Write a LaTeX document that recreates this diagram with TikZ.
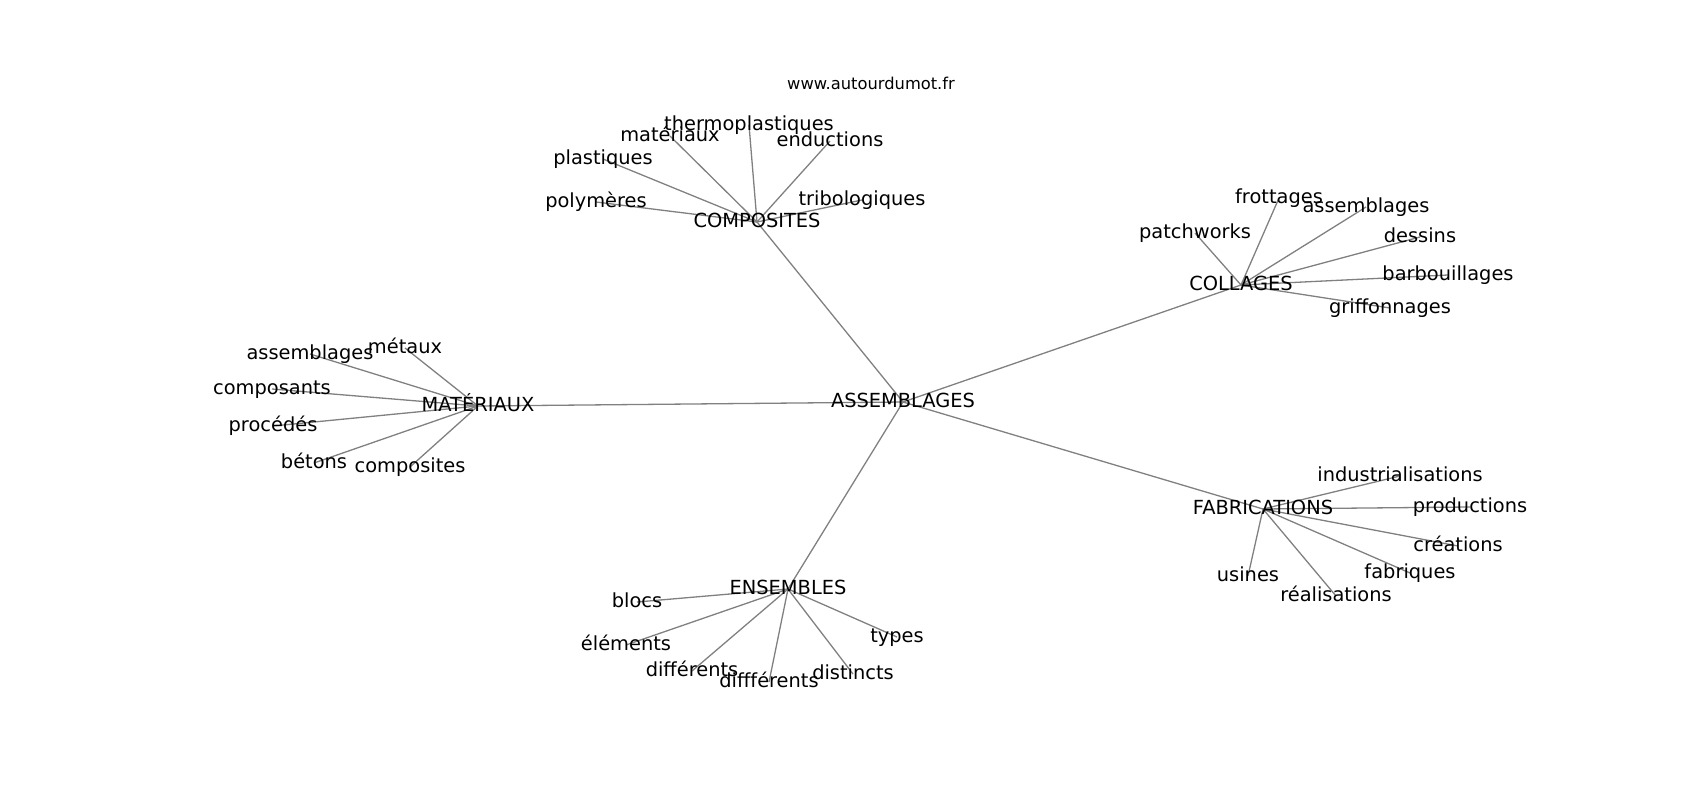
\documentclass[tikz,border=0pt]{standalone}
\usepackage{fontspec}
\setmainfont{DejaVu Sans}
\usetikzlibrary{backgrounds}
\begin{document}
\begin{tikzpicture}[x=1pt, y=-1pt,
        word/.style={inner sep=0pt, text height=14.7pt, text depth=4.4pt, font=\fontsize{19.4}{23}\selectfont},
        link/.style={draw=gray, line width=1.3pt}]
        \useasboundingbox (0,0) rectangle (1700,800);
        \node (url) [inner sep=0pt, text height=12.6pt, text depth=3.9pt, font=\fontsize{16.3}{20}\selectfont] at (871,85) {www.autourdumot.fr};

        \node (asm) [word] at (903,402) {ASSEMBLAGES};
        \node (cps) [word] at (757,222) {COMPOSITES};
        \node (col) [word] at (1241,285) {COLLAGES};
        \node (mat) [word] at (478,406) {MATÉRIAUX};
        \node (fab) [word] at (1263,509) {FABRICATIONS};
        \node (ens) [word] at (788,589) {ENSEMBLES};

        \node (thermo) [word] at (749,125) {thermoplastiques};
        \node (mater) [word] at (670,136) {matériaux};
        \node (enduc) [word] at (830,141) {enductions};
        \node (plast) [word] at (603,159) {plastiques};
        \node (polym) [word] at (596,202) {polymères};
        \node (tribo) [word] at (862,200) {tribologiques};

        \node (frott) [word] at (1279,198) {frottages};
        \node (assco) [word] at (1366,207) {assemblages};
        \node (patch) [word] at (1195,233) {patchworks};
        \node (dess) [word] at (1420,237) {dessins};
        \node (barb) [word] at (1448,275) {barbouillages};
        \node (griff) [word] at (1390,308) {griffonnages};

        \node (met) [word] at (405,348) {métaux};
        \node (assma) [word] at (310,354) {assemblages};
        \node (compo) [word] at (272,389) {composants};
        \node (proc) [word] at (273,426) {procédés};
        \node (bet) [word] at (314,463) {bétons};
        \node (compi) [word] at (410,467) {composites};

        \node (indus) [word] at (1400,476) {industrialisations};
        \node (prod) [word] at (1470,507) {productions};
        \node (crea) [word] at (1458,546) {créations};
        \node (fabr) [word] at (1410,573) {fabriques};
        \node (real) [word] at (1336,596) {réalisations};
        \node (usin) [word] at (1248,576) {usines};

        \node (bloc) [word] at (637,602) {blocs};
        \node (elem) [word] at (626,645) {éléments};
        \node (diff) [word] at (692,671) {différents};
        \node (difff) [word] at (769,682) {diffférents};
        \node (dist) [word] at (853,674) {distincts};
        \node (typ) [word] at (897,637) {types};

        \begin{scope}[on background layer]
        \draw[link] (asm.center) -- (cps.center);
        \draw[link] (asm.center) -- (col.center);
        \draw[link] (asm.center) -- (mat.center);
        \draw[link] (asm.center) -- (fab.center);
        \draw[link] (asm.center) -- (ens.center);

        \draw[link] (cps.center) -- (thermo.center);
        \draw[link] (cps.center) -- (mater.center);
        \draw[link] (cps.center) -- (enduc.center);
        \draw[link] (cps.center) -- (plast.center);
        \draw[link] (cps.center) -- (polym.center);
        \draw[link] (cps.center) -- (tribo.center);

        \draw[link] (col.center) -- (frott.center);
        \draw[link] (col.center) -- (assco.center);
        \draw[link] (col.center) -- (patch.center);
        \draw[link] (col.center) -- (dess.center);
        \draw[link] (col.center) -- (barb.center);
        \draw[link] (col.center) -- (griff.center);

        \draw[link] (mat.center) -- (met.center);
        \draw[link] (mat.center) -- (assma.center);
        \draw[link] (mat.center) -- (compo.center);
        \draw[link] (mat.center) -- (proc.center);
        \draw[link] (mat.center) -- (bet.center);
        \draw[link] (mat.center) -- (compi.center);

        \draw[link] (fab.center) -- (indus.center);
        \draw[link] (fab.center) -- (prod.center);
        \draw[link] (fab.center) -- (crea.center);
        \draw[link] (fab.center) -- (fabr.center);
        \draw[link] (fab.center) -- (real.center);
        \draw[link] (fab.center) -- (usin.center);

        \draw[link] (ens.center) -- (bloc.center);
        \draw[link] (ens.center) -- (elem.center);
        \draw[link] (ens.center) -- (diff.center);
        \draw[link] (ens.center) -- (difff.center);
        \draw[link] (ens.center) -- (dist.center);
        \draw[link] (ens.center) -- (typ.center);
        \end{scope}
    \end{tikzpicture}
\end{document}
